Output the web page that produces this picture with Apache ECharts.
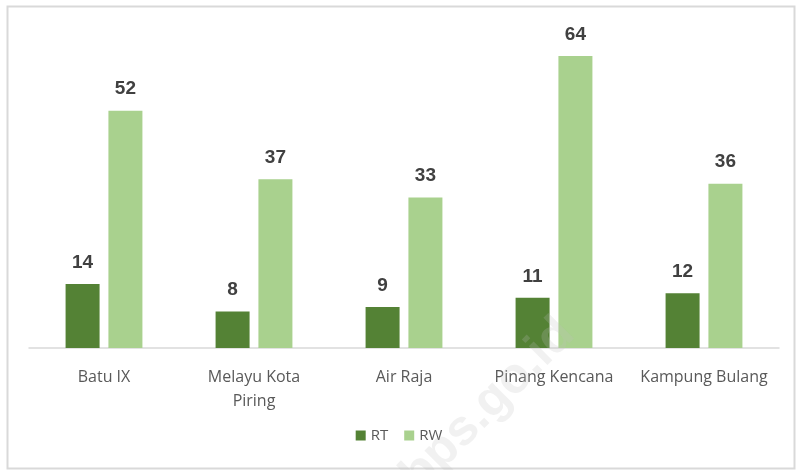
<!DOCTYPE html>
<html><head><meta charset="utf-8">
<script src="https://cdn.jsdelivr.net/npm/echarts@6/dist/echarts.min.js"></script>
<style>html,body{margin:0;padding:0;background:#fff}#c{width:798px;height:470px}</style>
</head><body><div id="c"></div>
<script>
const categories = ['Batu IX', 'Melayu Kota\nPiring', 'Air Raja', 'Pinang Kencana', 'Kampung Bulang'];
const rtValues = [14, 8, 9, 11, 12];
const rwValues = [52, 37, 33, 64, 36];
const seriesNames = ['RT', 'RW'];

const chart = echarts.init(document.getElementById('c'));
const labelStyle = {show: true, position: 'top', distance: 12, fontFamily: 'Liberation Sans', fontWeight: 'bold', fontSize: 19, color: '#404040'};
chart.setOption({
  animation: false,
  graphic: [
    {type: 'rect', left: 5, top: 4, shape: {width: 787, height: 462}, style: {fill: 'none', stroke: '#d9d9d9', lineWidth: 2}, z: 0},
    {type: 'text', x: 488, y: 405, rotation: Math.PI / 4, style: {text: 'bps.go.id', font: 'bold 50px "Liberation Sans"', fill: 'rgba(190,190,190,0.22)', textAlign: 'center', textVerticalAlign: 'middle'}, z: 100}
  ],
  grid: {left: 29, right: 19, top: 28.6, bottom: 122},
  legend: {
    data: seriesNames, bottom: 22, left: 'center', icon: 'rect', itemWidth: 10, itemHeight: 10, itemGap: 16,
    textStyle: {fontFamily: 'Open Sans', fontSize: 15, color: '#595959'}
  },
  xAxis: {
    type: 'category', data: categories,
    axisLine: {lineStyle: {color: '#d9d9d9', width: 1.5}},
    axisTick: {show: false},
    axisLabel: {fontFamily: 'Open Sans', fontSize: 16, color: '#595959', margin: 17, lineHeight: 24, interval: 0}
  },
  yAxis: {type: 'value', min: 0, max: 70, show: false, splitLine: {show: false}},
  series: [
    {name: 'RT', type: 'bar', data: rtValues, itemStyle: {color: '#548235'}, barWidth: 34, barGap: '26%', label: labelStyle},
    {name: 'RW', type: 'bar', data: rwValues, itemStyle: {color: '#a9d18e'}, barWidth: 34, label: labelStyle}
  ]
});
</script></body></html>
